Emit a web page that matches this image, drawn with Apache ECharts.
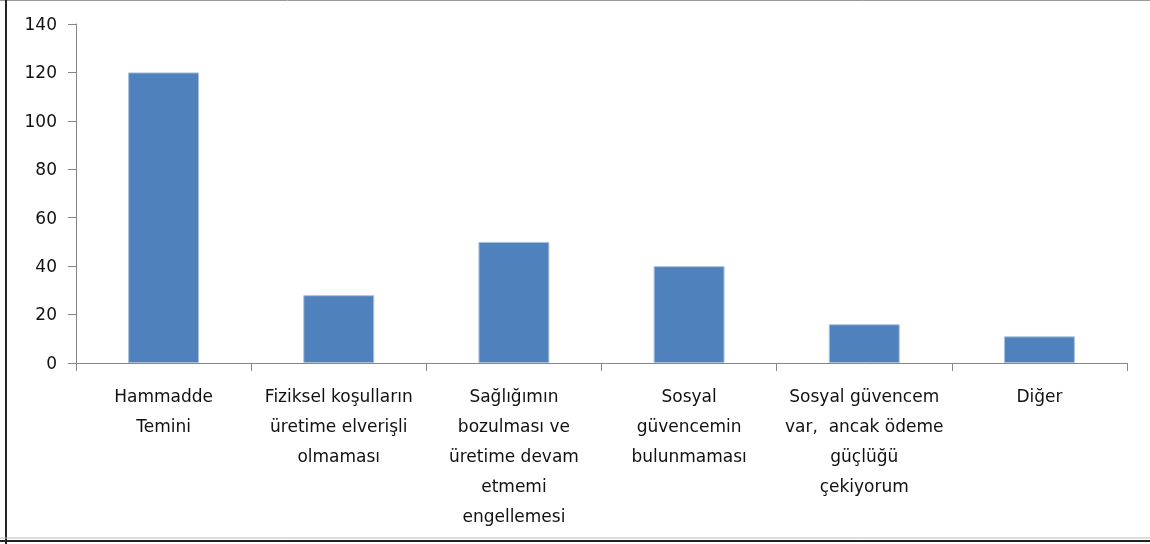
<!DOCTYPE html>
<html>
<head>
<meta charset="utf-8">
<script src="https://cdn.jsdelivr.net/npm/echarts@6/dist/echarts.min.js"></script>
<style>
html,body{margin:0;padding:0;background:#fff;}
#chart{width:1150px;height:544px;}
</style>
</head>
<body>
<div id="chart"></div>
<script>
const categories = [
  "Hammadde\nTemini",
  "Fiziksel koşulların\nüretime elverişli\nolmaması",
  "Sağlığımın\nbozulması ve\nüretime devam\netmemi\nengellemesi",
  "Sosyal\ngüvencemin\nbulunmaması",
  "Sosyal güvencem\nvar,  ancak ödeme\ngüçlüğü\nçekiyorum",
  "Diğer"
];
const values = [120, 28, 50, 40, 16, 11];
const yTicks = [0, 20, 40, 60, 80, 100, 120, 140];

const chart = echarts.init(document.getElementById('chart'));
const axisColor = '#868686';
const textColor = '#111';
const font = 'DejaVu Sans';
chart.setOption({
  animation: false,
  backgroundColor: '#fff',
  grid: {left: 76, right: 23, top: 24, bottom: 181, containLabel: false},
  xAxis: {
    type: 'category',
    data: categories,
    axisLine: {lineStyle: {color: axisColor, width: 1}},
    axisTick: {show: true, length: 8, lineStyle: {color: axisColor}, alignWithLabel: false},
    axisLabel: {
      interval: 0, margin: 20, color: textColor, fontFamily: font, fontSize: 17,
      lineHeight: 30, align: 'center'
    },
    splitLine: {show: false}
  },
  yAxis: {
    type: 'value',
    min: yTicks[0], max: yTicks[yTicks.length - 1], interval: 20,
    axisLine: {show: true, lineStyle: {color: axisColor, width: 1}},
    axisTick: {show: true, length: 8, lineStyle: {color: axisColor}},
    axisLabel: {margin: 19, color: textColor, fontFamily: font, fontSize: 17, verticalAlign: 'top', padding: [-7, 0, 0, 0]},
    splitLine: {show: false}
  },
  series: [{
    type: 'bar',
    data: values,
    barCategoryGap: '59.5%',
    itemStyle: {color: '#4F81BD', borderColor: '#a9c1df', borderWidth: 1}
  }],
  graphic: [
    {type: 'line', shape: {x1: 0, y1: 0.5, x2: 1150, y2: 0.5}, style: {stroke: '#9a9a9a', lineWidth: 1}},
    {type: 'line', shape: {x1: 6, y1: 0, x2: 6, y2: 544}, style: {stroke: '#222', lineWidth: 2}},
    {type: 'line', shape: {x1: 0, y1: 538, x2: 1150, y2: 538}, style: {stroke: '#bbb', lineWidth: 1}},
    {type: 'line', shape: {x1: 0, y1: 541, x2: 1150, y2: 541}, style: {stroke: '#222', lineWidth: 2}}
  ]
});
</script>
</body>
</html>
